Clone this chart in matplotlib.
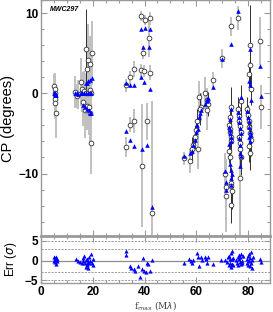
"""Closure phase vs baseline for MWC297, with model and residual panel."""
import matplotlib
matplotlib.use("Agg")
import matplotlib.pyplot as plt
from matplotlib.ticker import MultipleLocator
import numpy as np

plt.rcParams["font.family"] = ["Liberation Sans", "DejaVu Sans"]

# ---- data: points with light grey error bars ----
base_g = [5.1, 5.4, 5.5, 5.3, 5.6, 6.0,
          13.1, 14.0, 14.4, 15.4, 15.7, 16.0, 16.3, 16.8, 17.0, 17.5, 17.6,
          17.9, 18.0, 18.3, 18.6, 18.9, 18.9, 19.0, 19.3, 19.5, 19.9,
          32.8, 32.7, 34.4, 34.4, 35.9, 35.9, 38.5, 38.5, 38.9, 39.5, 39.9,
          40.2, 40.8, 41.7, 42.1, 42.1, 42.7,
          55.3, 57.5, 60.7, 61.1, 61.7, 63.3, 64.0, 64.2, 66.3, 69.8, 73.2,
          76.2, 84.6, 84.9, 71.2, 71.6, 71.5, 76.8]
cp_g = [0.9, 0.6, 0.0, -0.7, -1.25, -2.4,
        0.2, -0.3, -0.1, 1.4, 0.2, 0.5, -1.05, 0.3, -2.1, 0.0, 3.0,
        -1.6, 0.1, 4.2, -1.7, 3.7, -2.5, 0.4, -6.2, 0.0, 5.1,
        1.0, -6.7, 2.0, -3.9, 3.1, -3.4, 9.7, 2.9, -9.0, 5.1, 2.8,
        9.2, -3.5, 6.9, 9.4, 2.6, -14.9,
        -8.1, -8.4, -6.9, -0.4, -1.7, 0.1, -0.8, -2.1, 1.7, 4.4, 8.4,
        9.4, 6.6, -1.7, -10.0, -11.7, -12.8, -10.5]
err_g = [1.5, 2.0, 2.3, 2.2, 2.0, 3.2,
         2.0, 1.5, 1.8, 3.0, 2.5, 2.0, 3.0, 2.5, 3.5, 2.5, 4.0,
         3.0, 2.0, 4.5, 3.5, 3.5, 4.0, 2.5, 3.9, 2.0, 4.0,
         0.8, 1.2, 0.8, 0.9, 1.0, 1.5, 0.6, 0.8, 7.7, 0.8, 0.8,
         0.6, 2.3, 2.3, 0.8, 0.9, 14.0,
         0.8, 1.5, 2.5, 2.0, 1.8, 2.0, 1.5, 2.5, 1.0, 1.2, 1.2,
         1.5, 3.0, 2.7, 2.5, 3.5, 4.5, 8.0]
mod_g = [0.1, 0.0, -0.1, 0.0, -0.2, -0.2,
         0.0, 0.0, -0.05, 0.0, 0.0, 0.0, -1.45, 0.0, -1.7, 0.0, 1.35,
         -1.9, 0.0, 1.5, -2.1, 1.7, -2.4, 0.05, -2.5, 0.0, 1.9,
         1.25, -4.7, 1.0, -5.8, 1.0, -6.6, 8.0, 2.1, -7.0, 5.75, 1.45,
         8.2, -6.5, 5.75, 8.0, 0.5, -14.2,
         -7.8, -7.4, -4.5, -2.9, -2.1, -1.3, -0.9, -0.7, 0.8, 4.3, 6.2,
         10.3, 3.4, -0.3, -9.7, -11.0, -12.0, -9.0]

# ---- data: points with dark error bars ----
base_k = [17.3,
          58.2, 58.8, 59.3, 59.8, 60.1, 61.4, 64.6,
          72.6, 72.9, 73.1, 73.3, 73.5, 72.8, 73.0, 73.4, 73.2, 73.6, 73.4,
          73.4, 73.0,
          76.0, 76.3, 76.6, 76.9, 77.2, 76.4, 76.7, 77.0, 77.3, 77.1,
          79.6, 79.9, 80.2, 80.5, 80.8, 81.1, 80.3, 80.6, 80.3, 80.7, 80.7,
          81.0]
cp_k = [5.5,
        -7.0, -6.4, -5.5, -4.6, -3.5, -2.0, -1.3,
        -4.0, -4.4, -4.8, -5.5, -6.0, -7.2, -8.0, -11.2, -11.6, -12.2, -13.9,
        -1.7, -3.0,
        -2.0, -2.8, -3.5, -4.1, -4.8, -5.5, -6.2, -7.0, -8.0, -0.9,
        -2.0, -2.7, -3.4, -4.2, -5.0, -5.8, -6.6, -7.4, 2.4, 3.5, 6.0,
        0.5]
err_k = [5.0,
         1.5, 1.2, 1.5, 1.3, 1.5, 2.0, 1.5,
         1.0, 1.2, 1.0, 1.3, 1.5, 1.5, 1.8, 2.0, 2.0, 2.2, 2.3,
         2.5, 1.2,
         1.5, 1.2, 1.3, 1.5, 1.4, 1.6, 1.8, 2.0, 2.2, 2.0,
         1.5, 1.3, 1.5, 1.6, 1.8, 2.0, 2.0, 2.2, 1.5, 3.0, 5.0,
         2.0]
mod_k = [1.3,
         -7.2, -6.5, -5.8, -4.8, -3.9, -2.5, -0.6,
         -4.2, -4.6, -5.0, -5.5, -6.0, -6.3, -8.8, -9.5, -10.5, -10.0, -11.4,
         -2.0, -3.2,
         -2.3, -3.0, -3.6, -4.3, -5.0, -5.6, -6.4, -7.5, -7.8, -0.5,
         -2.2, -2.9, -3.5, -4.2, -4.8, -5.2, -5.5, -6.0, 1.5, 1.0, 5.5,
         -0.8]

# ---- residuals (data - model) / sigma ----
res_base = [4.9, 5.1, 5.3, 5.4, 5.5, 5.6, 5.8, 6.0, 6.1, 6.2,
            13.5, 14.4, 15.1, 15.7, 16.1, 16.3, 16.7, 17.0, 17.4, 17.6, 17.9,
            18.0, 18.3, 18.4, 18.7, 18.9, 19.2, 19.6, 20.0, 20.2, 17.4, 17.9,
            32.8, 32.8, 34.4, 34.6, 36.0, 36.3, 37.6, 38.2, 38.9, 39.5, 39.8,
            40.5, 40.8, 41.4, 42.1, 42.7,
            55.3, 57.3, 57.8, 58.2, 58.8, 60.1, 60.7, 61.1, 61.7, 62.0, 63.3,
            63.7, 64.2, 64.6, 66.3,
            69.4, 71.0, 72.0, 72.3, 72.6, 72.8, 73.0, 73.1, 73.3, 73.4, 73.6,
            73.7, 73.9, 74.1, 74.3,
            75.5, 75.8, 76.0, 76.2, 76.4, 76.6, 76.8, 77.0, 77.2, 77.4, 77.6,
            77.8, 78.0,
            79.4, 79.6, 79.8, 80.0, 80.2, 80.4, 80.6, 80.8, 81.0, 81.2, 81.4,
            81.6, 81.8, 84.7, 85.0]
res_val = [0.0, 1.0, 0.6, 0.3, -0.3, 0.1, -0.8, 0.85, 0.4, -0.2,
           0.3, 0.0, -0.25, -0.6, 0.7, 0.0, 1.1, -0.5, 0.2, -1.2, 0.5,
           -0.3, -1.9, -0.6, 0.9, 0.0, 1.7, -0.6, -1.0, 0.5, -1.6, -0.8,
           2.5, 1.45, -1.3, -1.8, -2.1, -2.6, -1.35, -4.2, -2.2, 0.6, -2.6,
           -2.8, -0.5, -0.8, -2.6, 0.2,
           -0.5, 0.5, -0.2, -0.7, 0.2, 2.0, 0.9, -1.3, 0.9, 0.2, 0.9,
           0.35, -0.7, 0.9, -0.8,
           0.2, 0.1, -0.3, 0.8, -1.0, 1.3, -0.5, 0.4, -1.5, 1.9, 2.4,
           -0.8, 0.3, -1.2, 0.6,
           0.2, -0.6, 1.0, -1.1, 0.5, 1.5, -0.3, 0.8, -0.9, 1.8, 0.0,
           -0.5, 1.2,
           -0.5, 0.4, -1.0, 1.1, -0.2, 1.7, -1.4, 0.6, -0.7, 2.3, 0.2,
           -1.8, 0.9, 0.5, -0.3]

spine_col = "#9a9a9a"

fig = plt.figure(figsize=(2.73, 3.12), dpi=100)
ax = fig.add_axes([0.150, 0.2436, 0.8396, 0.7548])
axr = fig.add_axes([0.150, 0.0920, 0.8396, 0.1516])

ax.errorbar(base_g, cp_g, yerr=err_g, fmt="none", ecolor="#c0c0c0",
            elinewidth=1.4, capsize=0, zorder=1)
ax.errorbar(base_k, cp_k, yerr=err_k, fmt="none", ecolor="#303030",
            elinewidth=0.7, capsize=0, zorder=2)
ax.plot(base_g + base_k, cp_g + cp_k, "o", ms=3.4, mfc="white",
        mec="#333333", mew=0.6, zorder=3)
ax.plot(base_g + base_k, mod_g + mod_k, "^", color="#0000ff", ms=3.3,
        mew=0, zorder=4)

ax.set_xlim(0, 88.5)
ax.set_ylim(-17.8, 11.6)
ax.yaxis.set_major_locator(MultipleLocator(10))
ax.yaxis.set_minor_locator(MultipleLocator(2))
ax.xaxis.set_major_locator(MultipleLocator(20))
ax.xaxis.set_minor_locator(MultipleLocator(5))
ax.set_xticklabels([])
ax.set_ylabel("CP (degrees)", fontsize=10.5, labelpad=2)
ax.text(0.04, 0.975, "MWC297", transform=ax.transAxes, fontsize=5,
        fontweight="bold", fontstyle="italic", va="top", ha="left")

axr.axhline(0, color="#8c8c8c", lw=0.9, zorder=1)
for lvl in (-5, -3, 3, 5):
    axr.axhline(lvl, color="#8c8c8c", lw=0.6, ls=(0, (2.5, 1.5)), zorder=1)
axr.plot(res_base, res_val, "^", color="#0000ff", ms=3.0, mew=0, zorder=3)
axr.set_xlim(0, 88.5)
axr.set_ylim(-5.75, 6.25)
axr.yaxis.set_major_locator(MultipleLocator(5))
axr.xaxis.set_major_locator(MultipleLocator(20))
axr.xaxis.set_minor_locator(MultipleLocator(5))
axr.set_ylabel(r"Err ($\sigma$)", fontsize=8.5, labelpad=4)
axr.set_xlabel(r"f$_{\rm max}$ (M$\lambda$)", fontsize=6.5, color="#444444",
               labelpad=1, family="DejaVu Serif")

for a in (ax, axr):
    for s in a.spines.values():
        s.set_color(spine_col)
        s.set_linewidth(1.0)
    a.tick_params(which="both", direction="in", top=True, right=True,
                  color=spine_col, width=0.8)
    a.tick_params(which="major", length=4, labelsize=8.5, pad=2)
    a.tick_params(which="minor", length=2)
    for lab in a.get_xticklabels() + a.get_yticklabels():
        lab.set_fontweight("bold")
axr.spines["top"].set_linewidth(2.0)

fig.savefig("out.png", dpi=100)
